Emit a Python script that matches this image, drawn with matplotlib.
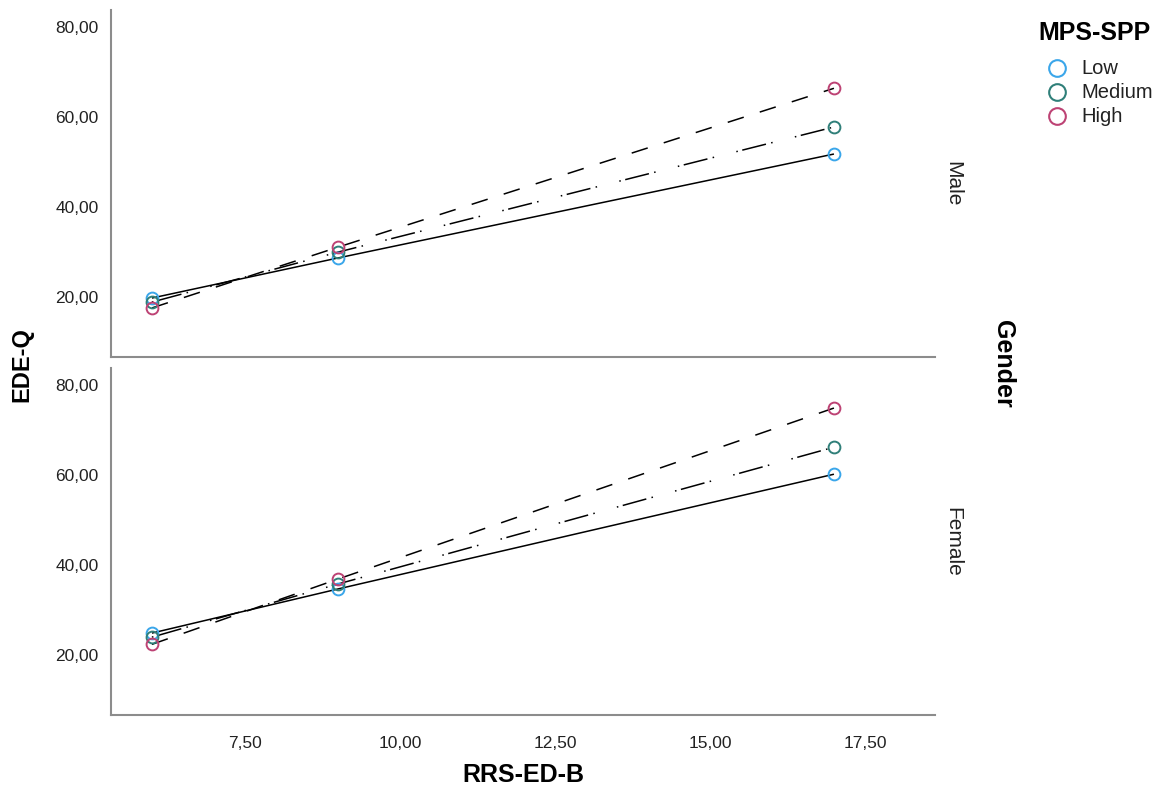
import matplotlib
matplotlib.use("Agg")
import matplotlib.pyplot as plt
from matplotlib.lines import Line2D
from matplotlib.ticker import FixedLocator, FuncFormatter

plt.rcParams['font.family'] = ['Liberation Sans', 'DejaVu Sans']

# ---- data ----
x_values = [6, 9, 17]
groups = ["Low", "Medium", "High"]
genders = ["Male", "Female"]
male_low = [19.8, 28.7, 51.8]
male_medium = [18.9, 30.0, 57.8]
male_high = [17.6, 31.1, 66.4]
female_low = [24.9, 34.7, 60.2]
female_medium = [24.0, 35.8, 66.2]
female_high = [22.4, 36.9, 74.9]
x_ticks = [7.5, 10.0, 12.5, 15.0, 17.5]
y_ticks = [20, 40, 60, 80]

data = {
    "Male": [male_low, male_medium, male_high],
    "Female": [female_low, female_medium, female_high],
}

colors = ["#3aa6ea", "#2f7f79", "#bd4274"]
styles = [(0, ()), (0, (1, 3, 16, 3.5, 1, 15)), (0, (11, 11))]

fig = plt.figure(figsize=(11.64, 7.91), dpi=100)
W, H = 1164, 791
left, right = 111 / W, 935 / W
panels = [(10, 357), (368, 715)]

comma = FuncFormatter(lambda v, p: f"{v:.2f}".replace(".", ","))

for gi, g in enumerate(genders):
    top, bot = panels[gi]
    ax = fig.add_axes([left, 1 - bot / H, right - left, (bot - top) / H])
    for k, ys in enumerate(data[g]):
        ax.plot(x_values, ys, color="black", lw=1.1, linestyle=styles[k], zorder=2)
        ax.plot(x_values, ys, linestyle="none", marker="o", markersize=8.5,
                markerfacecolor="none", markeredgecolor=colors[k], markeredgewidth=1.4, zorder=3)
    ax.set_xlim(5.34, 18.63)
    ax.set_ylim(6.7, 83.8)
    ax.yaxis.set_major_locator(FixedLocator(y_ticks))
    ax.yaxis.set_major_formatter(comma)
    ax.xaxis.set_major_locator(FixedLocator(x_ticks))
    ax.xaxis.set_major_formatter(comma)
    ax.tick_params(length=0, labelsize=12.5, colors="#222222")
    ax.tick_params(axis="y", pad=9)
    ax.tick_params(axis="x", pad=15)
    for s in ["top", "right"]:
        ax.spines[s].set_visible(False)
    for s in ["left", "bottom"]:
        ax.spines[s].set_color("#8c8c8c")
        ax.spines[s].set_linewidth(1.5)
    if gi == 0:
        ax.tick_params(axis="x", labelbottom=False)
    ax.text(1.022, 0.5, g, transform=ax.transAxes, rotation=-90, fontsize=15,
            ha="center", va="center", color="#222222")

fig.text(22 / W, 1 - 365 / H, "EDE-Q", rotation=90, fontsize=17, fontweight="bold",
         ha="center", va="center")
fig.text(1003 / W, 1 - 364 / H, "Gender", rotation=-90, fontsize=18, fontweight="bold",
         ha="center", va="center")
fig.text(523 / W, 1 - 775 / H, "RRS-ED-B", fontsize=18, fontweight="bold",
         ha="center", va="center")

# legend (drawn in figure pixel positions)
fig.text(1038 / W, 1 - 33 / H, "MPS-SPP", fontsize=18, fontweight="bold",
         ha="left", va="center")
for k, (lab, c) in enumerate(zip(groups, colors)):
    yy = 1 - (68 + 24 * k) / H
    fig.add_artist(Line2D([1057 / W], [yy], transform=fig.transFigure, linestyle="none",
                          marker="o", markersize=12, markerfacecolor="none",
                          markeredgecolor=c, markeredgewidth=1.5))
    fig.text(1081 / W, yy, lab, fontsize=14.5, ha="left", va="center", color="#222222")

fig.savefig("out.png", dpi=100)
